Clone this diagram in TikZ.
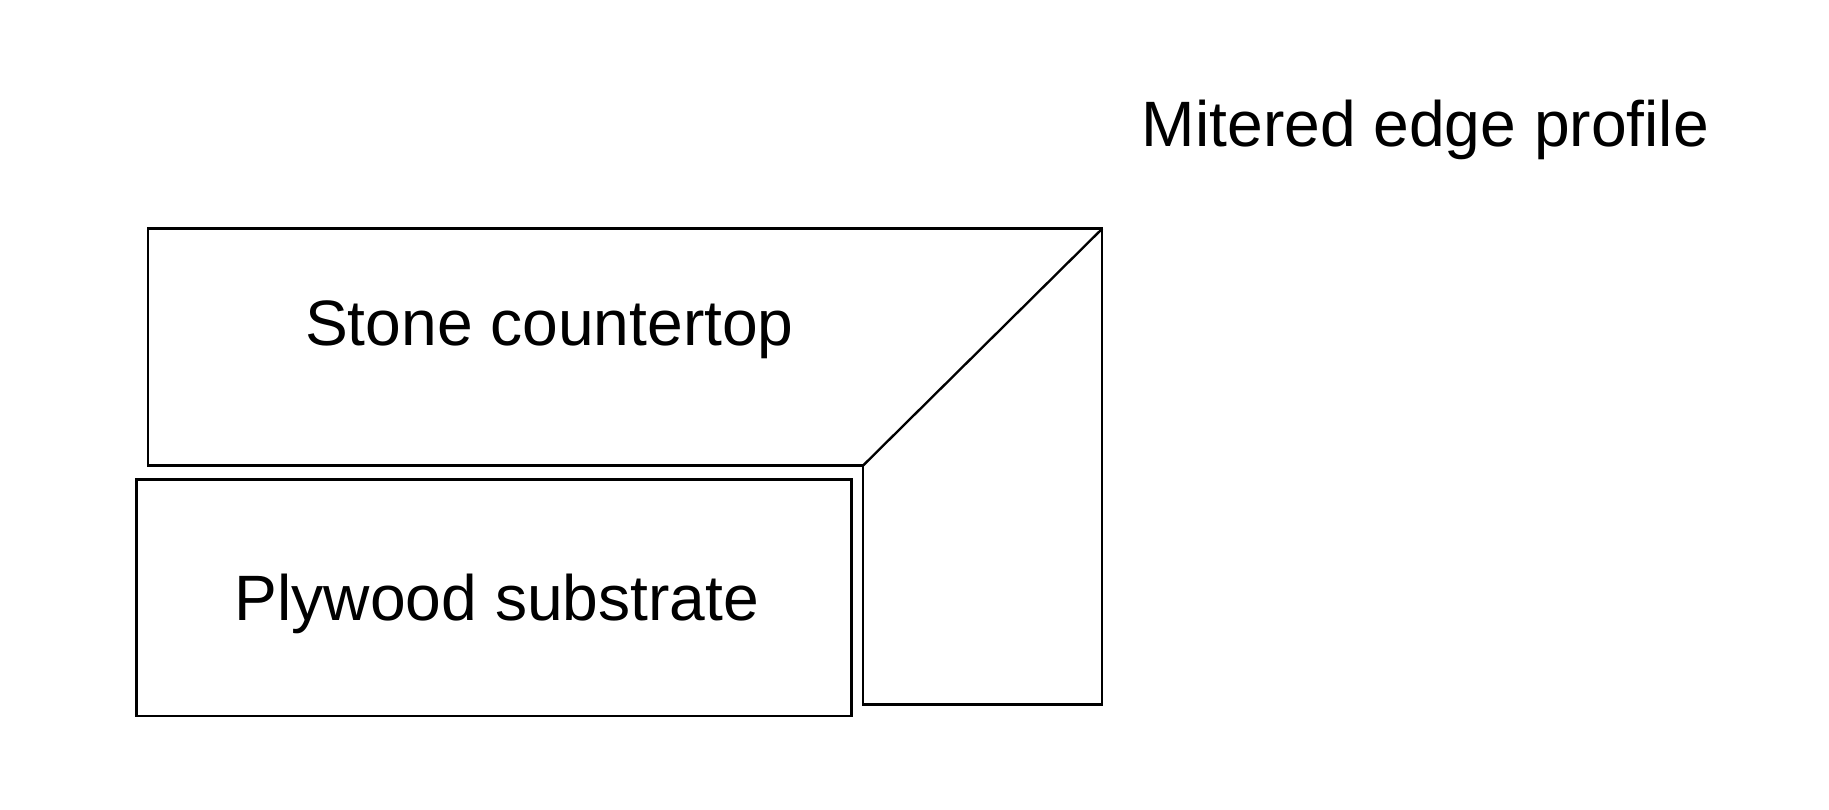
\documentclass[tikz,border=0pt]{standalone}
\usepackage{fontspec}
\setmainfont{Liberation Sans}
\begin{document}
\begin{tikzpicture}[x=0.5pt,y=-0.5pt,line width=1pt,
  lbl/.style={font=\fontsize{27.5}{32}\selectfont,inner sep=0pt}]
\useasboundingbox (0,0) rectangle (1568,694);
\draw (127,196) -- (945,196) -- (945,604) -- (740,604) -- (740,399) -- (127,399) -- cycle;
\coordinate (m1) at (740,399);
\coordinate (m2) at (945,196);
\draw (m1) -- (m2);
\draw (117,411) rectangle (730,614);
\node[lbl] (stone) at (471,283) {Stone countertop};
\node[lbl] (ply) at (426,518) {Plywood substrate};
\node[lbl,anchor=west] (title) at (978,111) {Mitered edge profile};
\end{tikzpicture}
\end{document}
